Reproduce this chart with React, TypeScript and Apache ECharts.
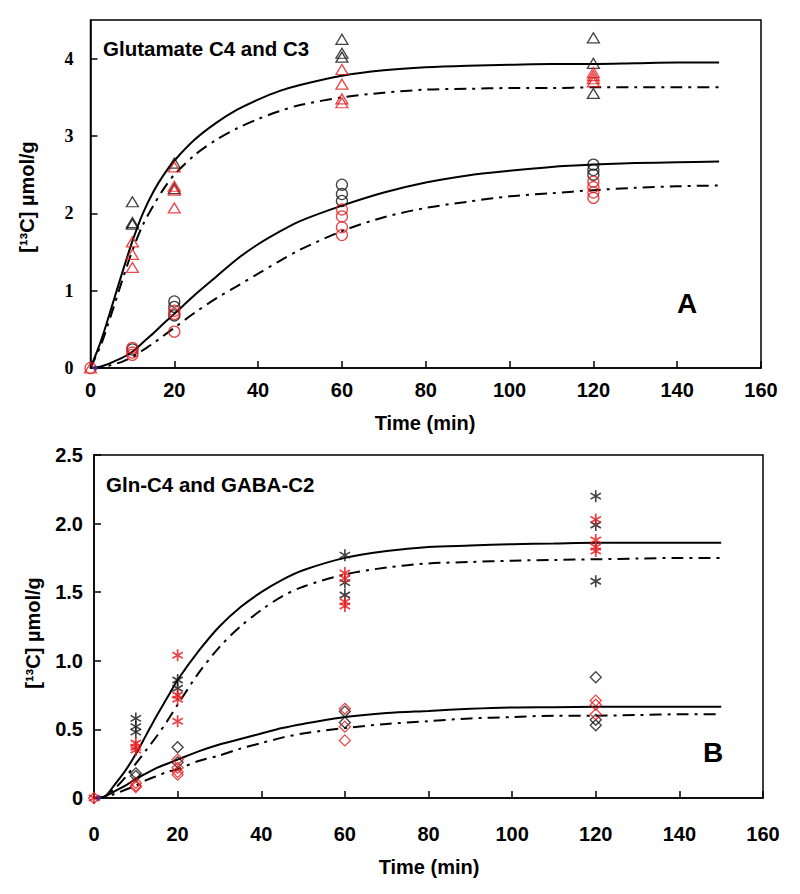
import React, { useEffect, useRef } from "react";
import * as echarts from "echarts";

// ---- Data ----
const xTicks = [0, 20, 40, 60, 80, 100, 120, 140, 160];
const fitTimes = [0, 2.5, 5, 7.5, 10, 12.5, 15, 17.5, 20, 25, 30, 35, 40, 45, 50, 60, 70, 80, 90, 100, 110, 120, 130, 140, 150];

// Panel A fits
const c4Solid = [0, 0.35, 0.78, 1.22, 1.64, 2.0, 2.28, 2.5, 2.68, 2.96, 3.17, 3.34, 3.47, 3.58, 3.66, 3.78, 3.85, 3.89, 3.91, 3.92, 3.93, 3.93, 3.94, 3.95, 3.95];
const c4DashDot = [0, 0.3, 0.7, 1.12, 1.52, 1.85, 2.1, 2.32, 2.5, 2.76, 2.95, 3.1, 3.22, 3.32, 3.4, 3.5, 3.56, 3.6, 3.61, 3.62, 3.62, 3.63, 3.63, 3.63, 3.63];
const c3Solid = [0, 0.02, 0.07, 0.13, 0.21, 0.33, 0.45, 0.58, 0.7, 0.95, 1.18, 1.41, 1.6, 1.76, 1.9, 2.1, 2.27, 2.4, 2.49, 2.55, 2.6, 2.63, 2.65, 2.66, 2.67];
const c3DashDot = [0, 0.01, 0.04, 0.08, 0.14, 0.23, 0.32, 0.42, 0.52, 0.72, 0.9, 1.06, 1.22, 1.38, 1.53, 1.77, 1.95, 2.07, 2.15, 2.22, 2.26, 2.3, 2.33, 2.35, 2.36];

// Panel B fits
const glnSolid = [0, 0.01, 0.1, 0.2, 0.32, 0.46, 0.6, 0.73, 0.86, 1.07, 1.25, 1.39, 1.5, 1.59, 1.66, 1.75, 1.8, 1.83, 1.84, 1.85, 1.855, 1.86, 1.86, 1.86, 1.86];
const glnDashDot = [0, 0.01, 0.07, 0.15, 0.25, 0.35, 0.45, 0.56, 0.68, 0.91, 1.1, 1.25, 1.37, 1.47, 1.54, 1.63, 1.68, 1.71, 1.72, 1.73, 1.735, 1.74, 1.745, 1.75, 1.75];
const gabaSolid = [0, 0.01, 0.05, 0.09, 0.14, 0.18, 0.22, 0.25, 0.28, 0.34, 0.39, 0.43, 0.47, 0.51, 0.54, 0.59, 0.62, 0.635, 0.65, 0.66, 0.662, 0.665, 0.665, 0.665, 0.665];
const gabaDashDot = [0, 0.005, 0.03, 0.06, 0.09, 0.13, 0.16, 0.19, 0.21, 0.27, 0.31, 0.36, 0.4, 0.44, 0.47, 0.51, 0.54, 0.56, 0.58, 0.59, 0.6, 0.6, 0.605, 0.61, 0.61];

// Panel A measured points [time, value]
const c4Black: [number, number][] = [[10, 2.15], [10, 1.88], [10, 1.86], [20, 2.65], [20, 2.32], [60, 4.25], [60, 4.07], [60, 4.02], [120, 4.27], [120, 3.94], [120, 3.55]];
const c4Red: [number, number][] = [[0, 0], [10, 1.63], [10, 1.47], [10, 1.3], [20, 2.6], [20, 2.35], [20, 2.3], [20, 2.07], [60, 3.86], [60, 3.67], [60, 3.48], [60, 3.43], [120, 3.82], [120, 3.78], [120, 3.74], [120, 3.7]];
const c3Black: [number, number][] = [[10, 0.24], [20, 0.86], [20, 0.79], [20, 0.68], [60, 2.37], [60, 2.25], [60, 2.16], [120, 2.63], [120, 2.56], [120, 2.5]];
const c3Red: [number, number][] = [[0, 0], [10, 0.26], [10, 0.2], [10, 0.17], [20, 0.74], [20, 0.7], [20, 0.47], [60, 2.05], [60, 1.96], [60, 1.82], [60, 1.72], [120, 2.41], [120, 2.34], [120, 2.27], [120, 2.2]];

// Panel B measured points
const glnBlack: [number, number][] = [[10, 0.58], [10, 0.52], [10, 0.48], [20, 0.86], [20, 0.8], [60, 1.77], [60, 1.57], [60, 1.48], [120, 2.2], [120, 1.99], [120, 1.58]];
const glnRed: [number, number][] = [[0, 0], [10, 0.4], [10, 0.37], [10, 0.35], [20, 1.04], [20, 0.75], [20, 0.72], [20, 0.56], [60, 1.64], [60, 1.6], [60, 1.43], [60, 1.4], [120, 2.03], [120, 1.88], [120, 1.83], [120, 1.8]];
const gabaBlack: [number, number][] = [[10, 0.18], [10, 0.16], [20, 0.37], [20, 0.26], [60, 0.63], [60, 0.55], [120, 0.88], [120, 0.57], [120, 0.53]];
const gabaRed: [number, number][] = [[0, 0], [10, 0.11], [10, 0.09], [10, 0.08], [20, 0.28], [20, 0.22], [20, 0.19], [20, 0.17], [60, 0.65], [60, 0.52], [60, 0.42], [120, 0.71], [120, 0.68], [120, 0.61]];

const originDot: [number, number][] = [[1.2, 0]];

// ---- Styles ----
const RED = "#e3191c";
const BLACK = "#111";
const SANS = "Liberation Sans, Arial, Helvetica, sans-serif";
const SERIF = "Liberation Serif, Times New Roman, serif";
const DASHDOT = [12, 6, 3, 6];
const ASTERISK = "path://M5,0L5,10M0.67,2.5L9.33,7.5M0.67,7.5L9.33,2.5";

const pairs = (ys: number[]) => fitTimes.map((t, i) => [t, ys[i]]);

function fitLine(data: number[], dash: boolean, idx: number) {
  return {
    type: "line",
    xAxisIndex: idx,
    yAxisIndex: idx,
    data: pairs(data),
    smooth: 0.3,
    symbol: "none",
    silent: true,
    z: 3,
    lineStyle: { color: "#000", width: 2, type: dash ? DASHDOT : "solid" },
  };
}

function points(data: [number, number][], symbol: string, color: string, idx: number, size: number[] | number, bw = 1.3) {
  return {
    type: "scatter",
    xAxisIndex: idx,
    yAxisIndex: idx,
    data,
    symbol,
    symbolSize: size,
    symbolKeepAspect: true,
    z: 4,
    itemStyle: { color: "rgba(0,0,0,0)", borderColor: color, borderWidth: bw },
  };
}

function xAxisCfg(idx: number, margin: number) {
  return {
    type: "value",
    gridIndex: idx,
    min: 0,
    max: 160,
    interval: 20,
    splitLine: { show: false },
    axisLine: { show: true, onZero: false, lineStyle: { color: "#000", width: 1.5 } },
    axisTick: { show: true, inside: true, length: 7, lineStyle: { color: "#000", width: 1.5 } },
    axisLabel: { margin, color: "#000", fontFamily: SANS, fontWeight: "bold", fontSize: 20 },
    data: xTicks,
  };
}

export default function App() {
  const ref = useRef<HTMLDivElement>(null);

  useEffect(() => {
    if (!ref.current) return;
    const chart = echarts.init(ref.current, null, { renderer: "svg" });
    const option = {
      animation: false,
      backgroundColor: "#fff",
      grid: [
        { left: 90.5, top: 20, width: 670.5, height: 348, show: true, borderColor: "#000", borderWidth: 1.5, backgroundColor: "transparent" },
        { left: 94, top: 455, width: 669, height: 343, show: true, borderColor: "#000", borderWidth: 1.5, backgroundColor: "transparent" },
      ],
      xAxis: [xAxisCfg(0, 12), xAxisCfg(1, 26)],
      yAxis: [
        {
          type: "value",
          gridIndex: 0,
          min: 0,
          max: 4.5,
          interval: 1,
          splitLine: { show: false },
          axisLine: { show: true, lineStyle: { color: "#000", width: 1.5 } },
          axisTick: { show: true, inside: true, length: 7, lineStyle: { color: "#000", width: 1.5 } },
          axisLabel: {
            margin: 17,
            color: "#000",
            fontFamily: SERIF,
            fontWeight: "bold",
            fontSize: 18,
            showMaxLabel: false,
            formatter: (v: number) => (v > 4.01 ? "" : String(v)),
          },
        },
        {
          type: "value",
          gridIndex: 1,
          min: 0,
          max: 2.5,
          interval: 0.5,
          splitLine: { show: false },
          axisLine: { show: true, lineStyle: { color: "#000", width: 1.5 } },
          axisTick: { show: true, inside: true, length: 7, lineStyle: { color: "#000", width: 1.5 } },
          axisLabel: {
            margin: 11,
            color: "#000",
            fontFamily: SANS,
            fontWeight: "bold",
            fontSize: 20,
            formatter: (v: number) => (v === 0 ? "0" : v.toFixed(1)),
          },
        },
      ],
      graphic: [
        { type: "text", left: 103, top: 38, style: { text: "Glutamate C4 and C3", font: `bold 20.5px ${SANS}`, fill: "#000" } },
        { type: "text", left: 106, top: 474, style: { text: "Gln-C4 and GABA-C2", font: `bold 20.5px ${SANS}`, fill: "#000" } },
        { type: "text", x: 687, y: 303, style: { text: "A", font: `bold 28px ${SANS}`, fill: "#000", textAlign: "center", textVerticalAlign: "middle" } },
        { type: "text", x: 713, y: 752, style: { text: "B", font: `bold 28px ${SANS}`, fill: "#000", textAlign: "center", textVerticalAlign: "middle" } },
        { type: "text", x: 425, y: 423, style: { text: "Time (min)", font: `bold 20px ${SANS}`, fill: "#000", textAlign: "center", textVerticalAlign: "middle" } },
        { type: "text", x: 429, y: 867, style: { text: "Time (min)", font: `bold 20px ${SANS}`, fill: "#000", textAlign: "center", textVerticalAlign: "middle" } },
        { type: "text", x: 27, y: 197, rotation: Math.PI / 2, style: { text: "[¹³C] µmol/g", font: `bold 20px ${SANS}`, fill: "#000", textAlign: "center", textVerticalAlign: "middle" } },
        { type: "text", x: 33, y: 633, rotation: Math.PI / 2, style: { text: "[¹³C] µmol/g", font: `bold 20px ${SANS}`, fill: "#000", textAlign: "center", textVerticalAlign: "middle" } },
      ],
      series: [
        fitLine(c4Solid, false, 0),
        fitLine(c4DashDot, true, 0),
        fitLine(c3Solid, false, 0),
        fitLine(c3DashDot, true, 0),
        points(c4Black, "triangle", BLACK, 0, [12, 10]),
        points(c4Red, "triangle", RED, 0, [12, 10]),
        points(c3Black, "circle", BLACK, 0, 11),
        points(c3Red, "circle", RED, 0, 11),
        { type: "scatter", xAxisIndex: 0, yAxisIndex: 0, data: originDot, symbol: "diamond", symbolSize: 6, z: 5, itemStyle: { color: "#3a2f9a" } },
        fitLine(glnSolid, false, 1),
        fitLine(glnDashDot, true, 1),
        fitLine(gabaSolid, false, 1),
        fitLine(gabaDashDot, true, 1),
        points(glnBlack, ASTERISK, BLACK, 1, 12, 1.6),
        points(glnRed, ASTERISK, RED, 1, 12, 1.8),
        points(gabaBlack, "diamond", BLACK, 1, [11, 11]),
        points(gabaRed, "diamond", RED, 1, [11, 11]),
        { type: "scatter", xAxisIndex: 1, yAxisIndex: 1, data: originDot, symbol: "diamond", symbolSize: 6, z: 5, itemStyle: { color: "#3a2f9a" } },
      ],
    };
    chart.setOption(option as any);
    return () => chart.dispose();
  }, []);

  return <div ref={ref} style={{ position: "absolute", left: 0, top: 0, width: 800, height: 894 }} />;
}
